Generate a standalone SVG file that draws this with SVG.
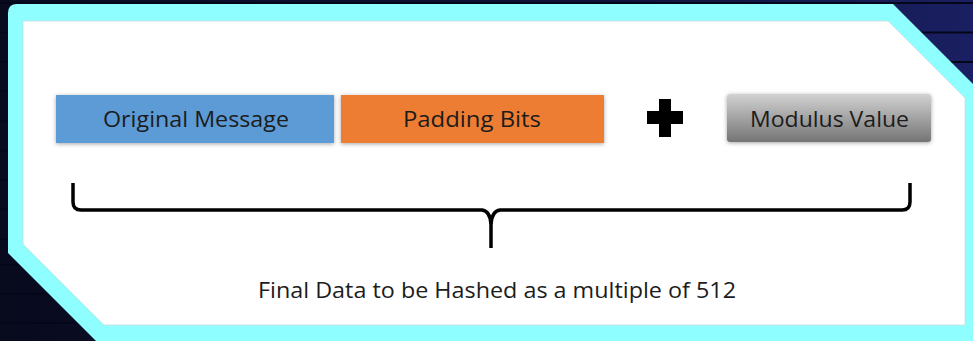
<svg xmlns="http://www.w3.org/2000/svg" width="973" height="341" viewBox="0 0 973 341">
  <defs>
    <linearGradient id="bg" x1="0" y1="0" x2="1" y2="0">
      <stop offset="0" stop-color="#080b1e"/>
      <stop offset="0.6" stop-color="#0d1238"/>
      <stop offset="1" stop-color="#1a1f62"/>
    </linearGradient>
    <linearGradient id="gray" x1="0" y1="0" x2="0" y2="1">
      <stop offset="0" stop-color="#d2d2d2"/>
      <stop offset="1" stop-color="#747474"/>
    </linearGradient>
    <filter id="sh" x="-10%" y="-30%" width="120%" height="160%">
      <feDropShadow dx="0" dy="1" stdDeviation="2.2" flood-color="#000" flood-opacity="0.35"/>
    </filter>
  </defs>
  <style>
    .lbl { font-family: "Open Sans", "Liberation Sans", sans-serif; font-size: 21px; fill: #1c1c1c; text-anchor: middle; }
    .stripe { stroke: #04061a; stroke-width: 2; }
    .brace { fill: none; stroke: #000; stroke-width: 3.5; stroke-linejoin: round; }
  </style>

  <!-- background -->
  <rect x="0" y="0" width="973" height="341" fill="url(#bg)"/>
  <g>
    <line class="stripe" x1="0" y1="3" x2="973" y2="3"/>
    <line class="stripe" x1="0" y1="32.5" x2="973" y2="32.5"/>
    <line class="stripe" x1="0" y1="62" x2="973" y2="62"/>
    <line class="stripe" x1="0" y1="91.5" x2="973" y2="91.5"/>
    <line class="stripe" x1="0" y1="121" x2="973" y2="121"/>
    <line class="stripe" x1="0" y1="150.5" x2="973" y2="150.5"/>
    <line class="stripe" x1="0" y1="180" x2="973" y2="180"/>
    <line class="stripe" x1="0" y1="209.5" x2="973" y2="209.5"/>
    <line class="stripe" x1="0" y1="239" x2="973" y2="239"/>
    <line class="stripe" x1="0" y1="265" x2="973" y2="265"/>
    <line class="stripe" x1="0" y1="294" x2="973" y2="294"/>
    <line class="stripe" x1="0" y1="323" x2="973" y2="323"/>
  </g>

  <!-- frame -->
  <path d="M8,13 Q8,4 17,4 L893,4 L975,86 L975,343 L98,343 L8,253 Z" fill="#8efefe"/>
  <path d="M23,21 L888,21 L965,98 L965,325 L104,325 L23,244 Z" fill="#ffffff" stroke="#c9dede" stroke-width="0.8"/>

  <!-- nodes -->
  <g id="original-message">
    <rect x="56" y="95" width="278" height="48" fill="#5b9bd5" filter="url(#sh)"/>
    <text class="lbl" x="196" y="127" textLength="186" lengthAdjust="spacingAndGlyphs">Original Message</text>
  </g>
  <g id="padding-bits">
    <rect x="341" y="95" width="263" height="48" fill="#ed7d31" filter="url(#sh)"/>
    <text class="lbl" x="472" y="127" textLength="138" lengthAdjust="spacingAndGlyphs">Padding Bits</text>
  </g>
  <g id="plus">
    <path d="M659,99 H671 V111 H683 V124 H671 V137 H659 V124 H647 V111 H659 Z" fill="#000"/>
  </g>
  <g id="modulus-value">
    <rect x="727" y="94" width="204" height="48" rx="3" fill="url(#gray)" filter="url(#sh)"/>
    <text class="lbl" x="829.5" y="127" textLength="159" lengthAdjust="spacingAndGlyphs">Modulus Value</text>
  </g>

  <!-- connectors (brace) -->
  <g id="connectors">
    <path class="brace" d="M73,183 V202 Q73,210 81,210 H482 Q490,211 491,224 V248"/>
    <path class="brace" d="M910,183 V202 Q910,210 902,210 H500 Q492,211 491,224"/>
  </g>

  <g id="caption">
    <text class="lbl" x="497" y="298" textLength="478" lengthAdjust="spacingAndGlyphs">Final Data to be Hashed as a multiple of 512</text>
  </g>
</svg>
